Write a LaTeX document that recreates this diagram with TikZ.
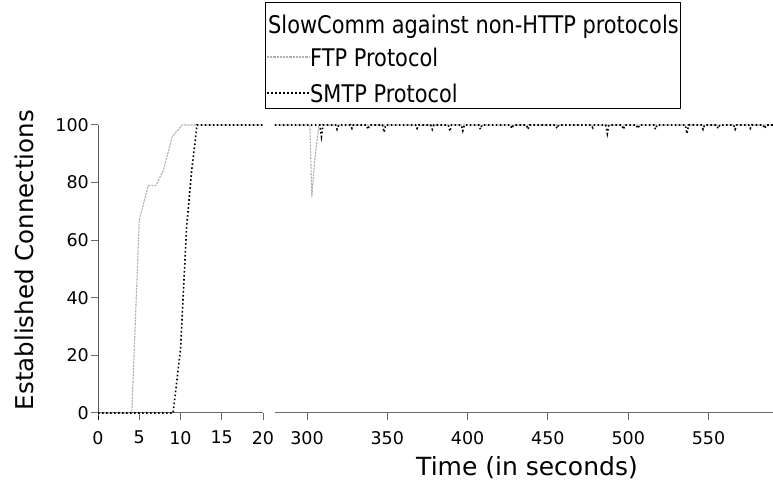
\documentclass[tikz,border=0pt]{standalone}
\usepackage{fontspec}
\setmainfont{DejaVu Sans}
\newfontfamily\legfont[FakeStretch=0.86]{DejaVu Sans}
\usetikzlibrary{positioning, calc}
\definecolor{ftpgray}{RGB}{175,175,175}
\definecolor{axisgray}{RGB}{105,105,105}

\begin{document}
\begin{tikzpicture}[x=1pt, y=1pt, font=\fontsize{17.5}{20}\selectfont,
  ticklab/.style={inner sep=1pt},
  tickmark/.style={axisgray, line width=1pt},
  ftpline/.style={ftpgray, line width=1.1pt, dash pattern=on 2.2pt off 1pt},
  smtpline/.style={black, line width=1.6pt, dash pattern=on 1.6pt off 2.4pt},
  keytext/.style={anchor=west, inner sep=0pt, font=\legfont\fontsize{24.3}{26}\selectfont}]
  \useasboundingbox (0,0) rectangle (773,487);
  % legend box
  \node[draw, line width=1pt, minimum width=415pt, minimum height=106pt, inner sep=0pt] (legend) at (472.5,431) {};
  \node[keytext] (legtitle) at (268,460) {SlowComm against non-HTTP protocols};
  \node[keytext] (ftpkey) at (310,430) {FTP Protocol};
  \node[keytext] (smtpkey) at (310,394) {SMTP Protocol};
  \coordinate (ftpstart) at (267,430);
  \coordinate (smtpstart) at (267,394);
  \draw[ftpline] (ftpstart) -- (ftpkey.west);
  \draw[smtpline] (smtpstart) -- (smtpkey.west);
  % axis titles
  \node[rotate=90, font=\fontsize{24.5}{26}\selectfont] (ylab) at (24,227) {Established Connections};
  \node[font=\fontsize{25}{27}\selectfont] (xlab) at (527,19) {Time (in seconds)};
  % left panel, 0 to 20 s
  \begin{scope}[shift={(98,74)}, x=8.25pt, y=2.88pt]
    \draw[axisgray, line width=1pt] (0,0) -- (20,0);
    \foreach \t in {5,10,15,20} {
      \draw[tickmark] (\t,0) -- ++(0,-7pt);
    }
    \foreach \t in {0,5,10,15,20} {
      \node[ticklab, below=17pt] (xl\t) at (\t,0) {\t};
    }
    \draw[black, line width=1pt] (0,100) -- (0,0) -- ++(0,-7pt);
    \foreach \v in {0,20,...,100} {
      \draw[tickmark] (0,\v) -- ++(-7pt,0);
      \node[ticklab, left=8pt] (yl\v) at (0,\v) {\v};
    }
    \draw[ftpline] (0,0) -- (4.1,0) -- (5,67) -- (6.1,79) -- (7,79) -- (7.9,84) -- (9,96) -- (10.2,100) -- (20,100);
    \draw[smtpline] (0,0) -- (9.1,0) -- (10,22) -- (10.75,65) -- (11.35,84) -- (12,100) -- (20,100);
  \end{scope}
  % right panel, 280 to 590 s
  \begin{scope}[shift={(-174.8,74)}, x=1.606pt, y=2.88pt]
    \draw[axisgray, line width=1pt] (280,0) -- (590,0);
    \foreach \t in {300,350,...,550} {
      \draw[tickmark] (\t,0) -- ++(0,-7pt);
      \node[ticklab, below=17pt] (xr\t) at (\t,0) {\t};
    }
    \draw[ftpline] (280,100) -- (301.8,100) -- (303,75) -- (304.8,88) -- (307.5,100) -- (590,100);
    \draw[smtpline] (280,100)
      \foreach \d/\h in {309/96, 318.7/98.5, 328/98.8, 338/98.5, 348/97.5, 368.5/98.8, 378/98.5,
        389/97.8, 397/98, 408/98.5, 427.6/98.8, 437.6/98.5, 455.7/98.8, 478/99, 487/97, 497/98.5,
        506/98.8, 517/98.5, 536.6/97, 546.6/98.5, 556/98.8, 566.6/98.5, 576/98.8, 585/98.8}
        { -- (\d-1,100) -- (\d,\h) -- (\d+1,100) }
      -- (590,100);
  \end{scope}
\end{tikzpicture}
\end{document}
